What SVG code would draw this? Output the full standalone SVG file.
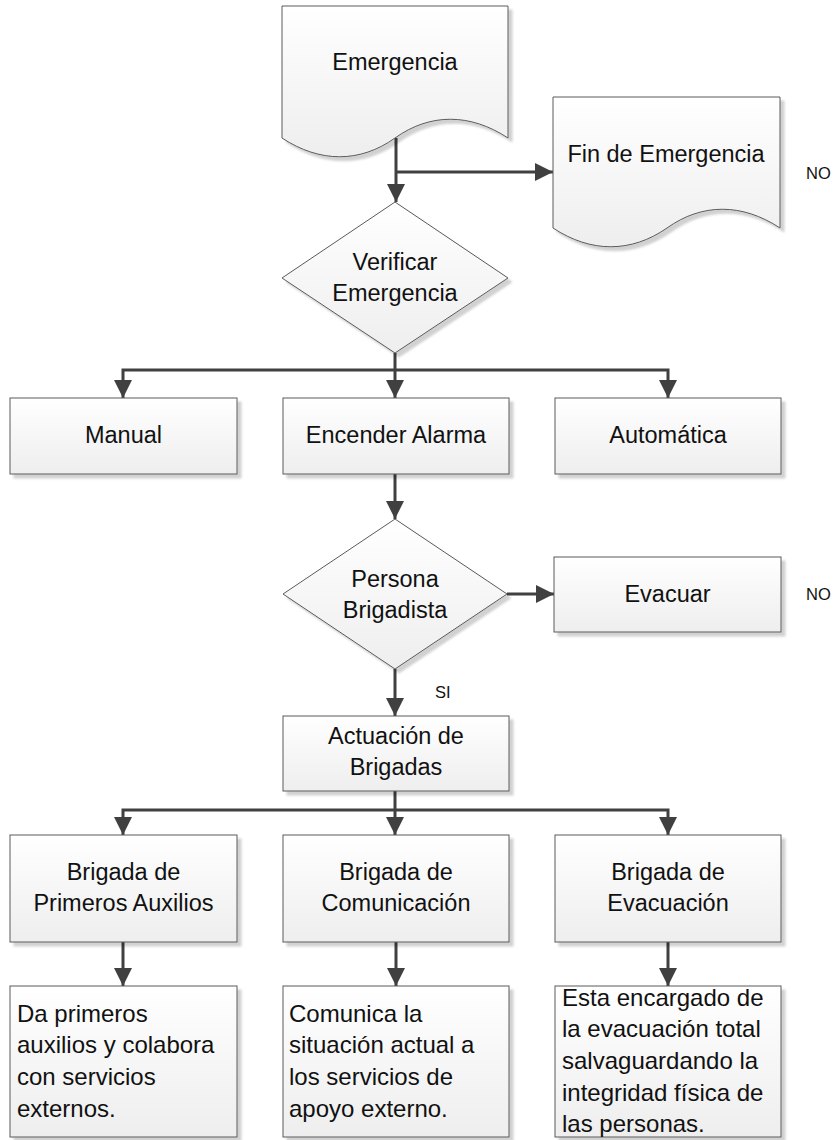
<svg xmlns="http://www.w3.org/2000/svg" width="838" height="1140" viewBox="0 0 838 1140">
<defs>
<linearGradient id="g" x1="0" y1="0" x2="0" y2="1">
<stop offset="0" stop-color="#ffffff"/>
<stop offset="1" stop-color="#eeeeee"/>
</linearGradient>
<filter id="sh" x="-5%" y="-5%" width="115%" height="120%">
<feDropShadow dx="4" dy="4" stdDeviation="1.2" flood-color="#000" flood-opacity="0.18"/>
</filter>
<marker id="ah" markerUnits="userSpaceOnUse" markerWidth="18" markerHeight="18" viewBox="0 0 18 18" refX="18" refY="9" orient="auto">
<path d="M0,0 L18,9 L0,18 Z" fill="#404040"/>
</marker>
<style>
.shape{fill:url(#g);stroke:#5a5a5a;stroke-width:1;filter:url(#sh)}
.t{font-family:"Liberation Sans",Arial,sans-serif;font-size:23.5px;fill:#111;text-anchor:middle}
.b{font-family:"Liberation Sans",Arial,sans-serif;font-size:24px;fill:#111}
.s{font-family:"Liberation Sans",Arial,sans-serif;font-size:16.5px;fill:#111}
.c{fill:none;stroke:#404040;stroke-width:3;marker-end:url(#ah)}
.c0{fill:none;stroke:#404040;stroke-width:3}
</style>
</defs>

<g id="connectors">
<path class="c" d="M396,138 V202"/>
<path class="c" d="M396,172 H553"/>
<path class="c" d="M395,353 V398"/>
<path class="c" d="M395,370 H123 V398"/>
<path class="c" d="M395,370 H668 V398"/>
<path class="c" d="M395,474 V519"/>
<path class="c" d="M507,594 H554"/>
<path class="c" d="M395,669 V716"/>
<path class="c" d="M395,791 V835"/>
<path class="c" d="M395,810 H123 V835"/>
<path class="c" d="M395,810 H668 V835"/>
<path class="c" d="M123,942 V986"/>
<path class="c" d="M396,942 V986"/>
<path class="c" d="M668,942 V986"/>
</g>

<g id="emergencia">
<path class="shape" d="M282,6 H508 V138 C470,113 430,113 395,138 C360,163 320,163 282,138 Z"/>
<text class="t" x="395" y="70">Emergencia</text>
</g>

<g id="fin-emergencia">
<path class="shape" d="M553,97 H780 V228 C742,203 702,203 667,228 C631,253 591,253 553,228 Z"/>
<text class="t" x="666" y="162">Fin de Emergencia</text>
</g>
<g id="label-no-1"><text class="s" x="806" y="179">NO</text></g>

<g id="verificar">
<path class="shape" d="M395,202 L508,278 L395,353 L282,278 Z"/>
<text class="t" x="395" y="270">Verificar</text>
<text class="t" x="395" y="301">Emergencia</text>
</g>

<g id="manual">
<rect class="shape" x="10" y="398" width="227" height="76"/>
<text class="t" x="123.5" y="443">Manual</text>
</g>
<g id="encender-alarma">
<rect class="shape" x="283" y="398" width="226" height="76"/>
<text class="t" x="396" y="443">Encender Alarma</text>
</g>
<g id="automatica">
<rect class="shape" x="555" y="398" width="226" height="76"/>
<text class="t" x="668" y="443">Automática</text>
</g>

<g id="persona-brigadista">
<path class="shape" d="M395,519 L507,594 L395,669 L283,594 Z"/>
<text class="t" x="395" y="587">Persona</text>
<text class="t" x="395" y="618">Brigadista</text>
</g>

<g id="evacuar">
<rect class="shape" x="554" y="557" width="227" height="75"/>
<text class="t" x="667.5" y="602">Evacuar</text>
</g>
<g id="label-no-2"><text class="s" x="806" y="600">NO</text></g>
<g id="label-si"><text class="s" x="435" y="698">SI</text></g>

<g id="actuacion">
<rect class="shape" x="283" y="716" width="226" height="75"/>
<text class="t" x="396" y="744">Actuación de</text>
<text class="t" x="396" y="775">Brigadas</text>
</g>

<g id="brigada-primeros-auxilios">
<rect class="shape" x="10" y="835" width="227" height="107"/>
<text class="t" x="123.5" y="880">Brigada de</text>
<text class="t" x="123.5" y="911">Primeros Auxilios</text>
</g>
<g id="brigada-comunicacion">
<rect class="shape" x="283" y="835" width="226" height="107"/>
<text class="t" x="396" y="880">Brigada de</text>
<text class="t" x="396" y="911">Comunicación</text>
</g>
<g id="brigada-evacuacion">
<rect class="shape" x="555" y="835" width="226" height="107"/>
<text class="t" x="668" y="880">Brigada de</text>
<text class="t" x="668" y="911">Evacuación</text>
</g>

<g id="desc-primeros-auxilios">
<rect class="shape" x="10" y="986" width="227" height="151"/>
<text class="b" x="17" y="1022">Da primeros</text>
<text class="b" x="17" y="1053">auxilios y colabora</text>
<text class="b" x="17" y="1085">con servicios</text>
<text class="b" x="17" y="1117">externos.</text>
</g>
<g id="desc-comunicacion">
<rect class="shape" x="283" y="986" width="226" height="151"/>
<text class="b" x="289" y="1022">Comunica la</text>
<text class="b" x="289" y="1053">situación actual a</text>
<text class="b" x="289" y="1085">los servicios de</text>
<text class="b" x="289" y="1117">apoyo externo.</text>
</g>
<g id="desc-evacuacion">
<rect class="shape" x="555" y="986" width="226" height="151"/>
<text class="b" x="562" y="1006">Esta encargado de</text>
<text class="b" x="562" y="1037">la evacuación total</text>
<text class="b" x="562" y="1069">salvaguardando la</text>
<text class="b" x="562" y="1101">integridad física de</text>
<text class="b" x="562" y="1132">las personas.</text>
</g>
</svg>
